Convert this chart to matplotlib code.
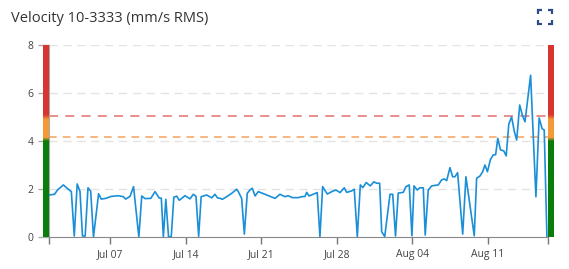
import numpy as np
import pandas as pd
import matplotlib
matplotlib.use("Agg")
import matplotlib.pyplot as plt
import matplotlib.dates as mdates
from matplotlib.colors import LinearSegmentedColormap
from matplotlib.lines import Line2D

# days since Jul 01 00:00 and velocity (mm/s RMS)
days = [0.35, 0.86, 1.14, 1.68, 2.06, 2.42, 2.69, 2.96, 3.22, 3.45, 3.70, 3.96, 4.21, 4.47,
        4.94, 5.19, 5.61, 6.09, 6.77, 7.23, 7.45, 7.85, 8.18, 8.67, 8.94, 9.24, 9.78, 10.17,
        10.56, 10.75, 10.94, 11.17, 11.42, 11.67, 11.91, 12.18, 12.42, 12.94, 13.41, 13.71,
        13.96, 14.21, 14.44, 14.95, 15.42, 15.72, 15.95, 16.19, 16.40, 16.81, 17.27, 17.73,
        17.88, 18.19, 18.44, 18.71, 18.96, 19.18, 19.43, 19.73, 20.35, 21.28, 21.74, 22.20,
        22.51, 22.88, 23.44, 23.75, 24.06, 24.21, 24.43, 24.82, 25.19, 25.44, 25.69, 26.12,
        26.53, 26.93, 27.30, 27.69, 27.92, 28.38, 28.62, 28.90, 29.18, 29.41, 29.73, 30.10,
        30.44, 30.69, 30.97, 31.16, 31.44, 31.93, 32.18, 32.44, 32.69, 33.16, 33.41, 33.71,
        33.96, 34.15, 34.45, 34.70, 35.01, 35.19, 35.47, 35.79, 36.40, 36.71, 36.95, 37.18,
        37.48, 37.73, 37.94, 38.19, 38.66, 38.96, 39.73, 39.95, 40.26, 40.51, 40.72, 40.95,
        41.23, 41.49, 41.71, 41.91, 42.16, 42.46, 42.69, 42.93, 43.19, 43.44, 43.66, 43.94,
        44.18, 44.43, 44.95, 45.44, 45.74, 46.02, 46.21, 46.46]
velocity = [1.75, 1.78, 1.96, 2.17, 2.02, 1.89, 0.04, 2.21, 1.90, 0.04, 0.04, 2.05, 1.91, 0.00,
            1.80, 1.58, 1.61, 1.69, 1.72, 1.68, 1.58, 1.69, 2.10, 0.00, 1.71, 1.60, 1.61, 1.89,
            1.62, 1.62, 0.01, 1.57, 0.01, 0.01, 1.66, 1.70, 1.53, 1.72, 1.59, 1.78,
            1.70, 0.03, 1.68, 1.75, 1.63, 1.78, 1.63, 1.61, 1.57, 1.68, 1.82, 1.99,
            1.89, 1.61, 0.12, 1.82, 1.96, 2.03, 1.71, 1.89, 1.78, 1.61, 1.78, 1.68,
            1.72, 1.64, 1.64, 1.68, 1.69, 1.86, 1.71, 1.78, 1.85, 0.01, 2.10, 1.79,
            1.89, 1.96, 1.85, 2.05, 1.86, 1.92, 1.99, 0.01, 2.17, 2.06, 2.27, 2.13,
            2.30, 2.24, 2.24, 0.22, 0.02, 1.78, 1.78, 0.04, 1.83, 1.86, 2.10, 2.17,
            0.05, 2.13, 1.96, 2.05, 2.05, 0.08, 1.96, 2.13, 2.17, 2.38, 2.42, 2.35,
            2.89, 2.51, 2.51, 2.68, 0.12, 2.51, 0.05, 2.45, 2.54, 2.72, 3.00, 2.72,
            3.23, 3.42, 3.43, 4.11, 3.63, 3.59, 3.38, 4.71, 5.00, 4.40, 4.04, 5.50,
            5.08, 4.80, 6.74, 1.68, 4.96, 4.51, 4.46, 0.02]

alarm_level = 5.04
warning_level = 4.15
y_ticks = [0, 2, 4, 6, 8]
week_ticks = ["2024-07-07", "2024-07-14", "2024-07-21", "2024-07-28", "2024-08-04", "2024-08-11"]

start = pd.Timestamp("2024-07-01")
times = start + pd.to_timedelta(days, unit="D")
x0 = times[0]
x1 = start + pd.Timedelta(days=46.56)

fig = plt.figure(figsize=(5.69, 2.69), dpi=100)
ax = fig.add_axes([49 / 569, 1 - 237 / 269, 499 / 569, 192 / 269])

for y in y_ticks[1:]:
    ax.axhline(y, color="#e3e3e3", lw=1, ls=(0, (6, 4)), zorder=1)
ax.axhline(alarm_level, color="#e98585", lw=1.3, ls=(0, (5, 4)), zorder=2)
ax.axhline(warning_level, color="#f4a25c", lw=1.1, ls=(0, (5, 4)), zorder=2)

ax.plot(times, velocity, color="#1a8fd8", lw=1.2, zorder=3)

ax.set_xlim(x0, x1)
ax.set_ylim(0, 8)
ax.set_yticks(y_ticks)
xt = [x0] + [pd.Timestamp(d) for d in week_ticks] + [x1]
ax.set_xticks(xt)
ax.set_xticklabels([""] + [pd.Timestamp(d).strftime("%b %d") for d in week_ticks] + [""])

for s in ["top", "right"]:
    ax.spines[s].set_visible(False)
ax.spines["left"].set_color("#aaaaaa")
ax.spines["bottom"].set_color("#888888")
ax.tick_params(axis="y", length=8, width=1, color="#aaaaaa", labelsize=7.5,
               labelcolor="#444444", pad=3)
ax.tick_params(axis="x", length=5, width=1, color="#777777", labelsize=7.5,
               labelcolor="#444444", pad=4)
for t in ax.get_xticklabels() + ax.get_yticklabels():
    t.set_fontfamily("Open Sans")

# severity bars at both ends
zone_cmap = LinearSegmentedColormap.from_list("zones", [
    (0.0, "#0b7d0b"), (4.0 / 8, "#0b7d0b"), (4.15 / 8, "#f59a38"),
    (4.9 / 8, "#f59a38"), (5.1 / 8, "#d83530"), (1.0, "#d83530")])
grad = np.linspace(0, 1, 256).reshape(-1, 1)
for left in [43.3, 547.7]:
    bax = fig.add_axes([left / 569, 1 - 237 / 269, 5.8 / 569, 192 / 269])
    bax.imshow(grad, cmap=zone_cmap, aspect="auto", origin="lower")
    bax.axis("off")

fig.text(11 / 569, 1 - 18 / 269, "Velocity 10-3333 (mm/s RMS)", fontsize=10.5,
         color="#333333", fontfamily="Open Sans", va="center", ha="left")

# expand icon
W, H = 569, 269
ic = "#2d4a8a"
for cx, cy, dx, dy in [(538, 10, 1, 1), (552, 10, -1, 1), (538, 24, 1, -1), (552, 24, -1, -1)]:
    fig.add_artist(Line2D([cx / W, cx / W, (cx + 4 * dx) / W],
                          [1 - (cy + 4 * dy) / H, 1 - cy / H, 1 - cy / H],
                          color=ic, lw=1.6, solid_capstyle="butt", solid_joinstyle="miter"))

fig.savefig("out.png", dpi=100)
